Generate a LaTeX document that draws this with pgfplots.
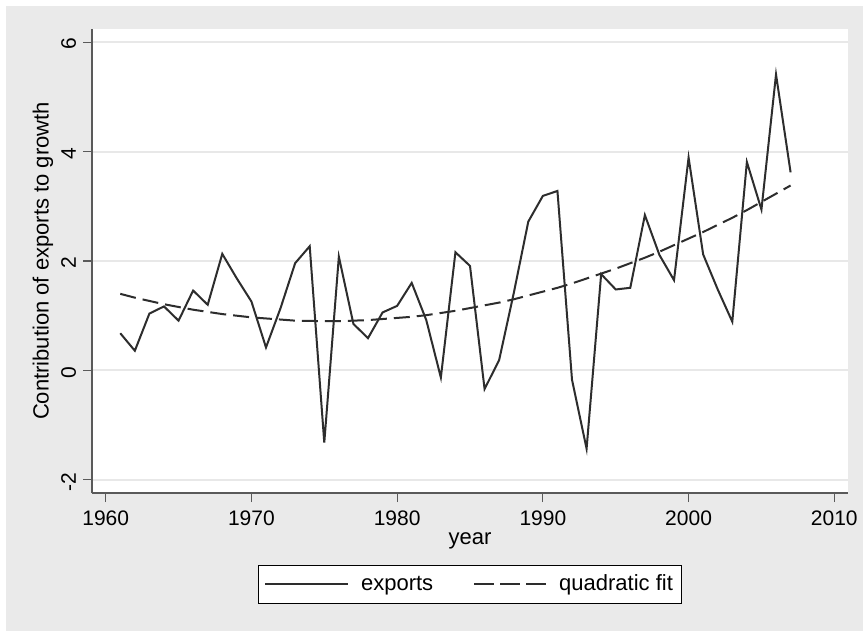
\documentclass[border=0pt]{standalone}
\usepackage{fontspec}
\setmainfont{Liberation Sans}
\usepackage{pgfplots}
\usepackage{pgfplotstable}
\pgfplotsset{compat=1.18}
\definecolor{bg}{RGB}{234,234,234}
\definecolor{gridc}{RGB}{232,232,232}
\definecolor{ln}{RGB}{45,45,45}
\definecolor{axc}{RGB}{90,90,90}

\pgfplotstableread{
year val
1961 0.68
1962 0.36
1963 1.04
1964 1.17
1965 0.91
1966 1.46
1967 1.20
1968 2.13
1969 1.68
1970 1.26
1971 0.42
1972 1.14
1973 1.96
1974 2.27
1975 -1.32
1976 2.08
1977 0.85
1978 0.59
1979 1.06
1980 1.18
1981 1.60
1982 0.92
1983 -0.13
1984 2.16
1985 1.91
1986 -0.34
1987 0.19
1988 1.41
1989 2.72
1990 3.19
1991 3.28
1992 -0.17
1993 -1.43
1994 1.76
1995 1.48
1996 1.51
1997 2.84
1998 2.11
1999 1.65
2000 3.89
2001 2.12
2002 1.48
2003 0.89
2004 3.81
2005 2.94
2006 5.41
2007 3.62
}\exports

\pgfplotstableread{
year fit
1961 1.40
1962 1.33
1963 1.27
1964 1.21
1965 1.16
1966 1.11
1967 1.07
1968 1.03
1969 1.00
1970 0.97
1971 0.95
1972 0.93
1973 0.91
1974 0.905
1975 0.90
1976 0.90
1977 0.91
1978 0.92
1979 0.94
1980 0.96
1981 0.98
1982 1.01
1983 1.05
1984 1.09
1985 1.14
1986 1.19
1987 1.24
1988 1.30
1989 1.37
1990 1.44
1991 1.51
1992 1.59
1993 1.68
1994 1.77
1995 1.86
1996 1.96
1997 2.06
1998 2.17
1999 2.29
2000 2.41
2001 2.53
2002 2.66
2003 2.79
2004 2.93
2005 3.08
2006 3.23
2007 3.38
}\fit

\begin{document}
\begin{tikzpicture}
\path[use as bounding box] (0,0) rectangle (431.5bp,-315.5bp);
\fill[white] (0,0) rectangle (431.5bp,-315.5bp);
\fill[bg] (3bp,-3bp) rectangle (431.5bp,-315.5bp);
\begin{axis}[
  at={(46bp,-246.5bp)}, anchor=south west,
  scale only axis, width=378bp, height=232bp,
  xmin=1959.06, xmax=2010.94, ymin=-2.24, ymax=6.24,
  axis background/.style={fill=white},
  axis x line=bottom, axis y line=left,
  axis line style={-, draw=axc, line width=0.6bp},
  every tick/.style={draw=axc, line width=0.6bp},
  tick align=outside, major tick length=4.5bp,
  xtick={1960,1970,...,2010}, ytick={-2,0,2,4,6},
  minor tick num=0,
  ymajorgrids, grid style={draw=gridc, line width=1bp},
  /pgf/number format/assume math mode=true,
  /pgf/number format/1000 sep={},
  ticklabel style={font=\fontsize{10.5bp}{12bp}\selectfont},
  xticklabel style={yshift=-1bp},
  yticklabel style={rotate=90, anchor=south, xshift=-1bp},
  yticklabel={\pgfmathprintnumber[assume math mode=true]{\tick}},
  label style={font=\fontsize{11bp}{13bp}\selectfont},
  xlabel={year},
  ylabel={Contribution of exports to growth},
  xlabel style={at={(axis description cs:0.5,-0.104)}, anchor=center},
  ylabel style={at={(axis description cs:-0.0648,0.5)}, anchor=center},
  legend columns=2,
  legend image code/.code={\draw[#1] (0bp,0bp) -- (41.5bp,0bp);},
  legend style={at={(axis description cs:0.5,-0.1552)}, anchor=north,
    draw=black, line width=0.5bp, fill=white,
    font=\fontsize{11bp}{13bp}\selectfont,
    inner xsep=3bp, inner ysep=3.25bp,
    nodes={inner sep=1.5bp},
    /tikz/every odd column/.append style={column sep=4.5bp},
    /tikz/every even column/.append style={column sep=18.5bp}},
]
\addplot[ln, line width=1bp, line join=miter] table[x=year, y=val] {\exports};
\addlegendentry{exports}
\addplot[ln, line width=1bp, dash pattern=on 8bp off 3.5bp,
  legend image code/.code={\draw[ln, line width=1bp, dash pattern=on 10bp off 3bp] (0bp,0bp) -- (36bp,0bp);}]
  table[x=year, y=fit] {\fit};
\addlegendentry{quadratic fit}
\end{axis}
\end{tikzpicture}
\end{document}
